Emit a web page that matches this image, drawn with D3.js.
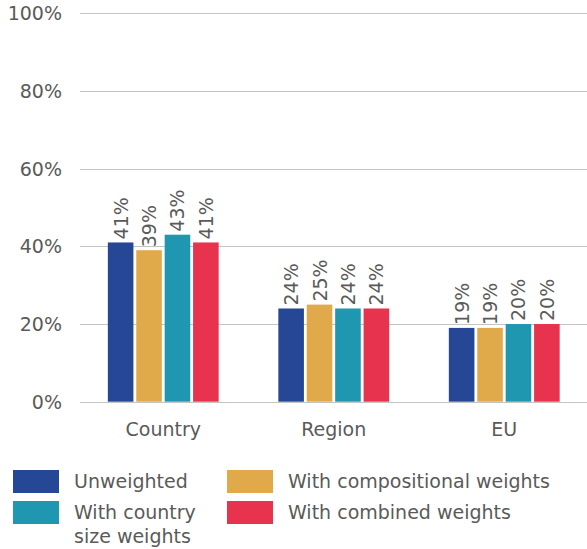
<!DOCTYPE html>
<html><head><meta charset="utf-8">
<script src="https://cdn.jsdelivr.net/npm/d3@7"></script>
<style>body{margin:0;background:#fff}svg{display:block;font-family:"DejaVu Sans",sans-serif}</style>
</head><body><svg id="c" width="587" height="549"></svg>
<script>
const categories = ["Country", "Region", "EU"];
const seriesNames = ["Unweighted", "With compositional weights", "With country size weights", "With combined weights"];
const seriesColors = ["#264796", "#E0AA4A", "#1F97B0", "#E8334E"];
const unweighted = [41, 24, 19];
const compositional = [39, 25, 19];
const countrySize = [43, 24, 20];
const combined = [41, 24, 20];
const yTicks = [0, 20, 40, 60, 80, 100];

const series = [unweighted, compositional, countrySize, combined];
const svg = d3.select("#c");
const x0 = d3.scaleBand().domain(categories).range([78, 589.5]).paddingInner(0.35).paddingOuter(0.175);
const x1 = d3.scaleBand().domain(d3.range(4)).range([0, x0.bandwidth()]).paddingInner(0.1);
const y = d3.scaleLinear().domain([0, 100]).range([401.7, 13.3]);

// gridlines
svg.append("g").selectAll("line").data(yTicks).join("line")
  .attr("x1", 80).attr("x2", 587)
  .attr("y1", d => Math.round(y(d)) + 0.5).attr("y2", d => Math.round(y(d)) + 0.5)
  .attr("stroke", "#c4c4c4").attr("stroke-width", 1.2);

// y labels
svg.append("g").selectAll("text").data(yTicks).join("text")
  .attr("x", 62).attr("y", d => y(d)).attr("dy", "0.36em")
  .attr("text-anchor", "end").attr("font-size", 19).attr("fill", "#5a5a5a")
  .text(d => d + "%");

// bars
const g = svg.append("g").selectAll("g").data(categories).join("g")
  .attr("transform", d => `translate(${x0(d)},0)`);
g.each(function(cat, ci) {
  const sel = d3.select(this);
  series.forEach((s, si) => {
    sel.append("rect").attr("x", x1(si)).attr("width", x1.bandwidth())
      .attr("y", y(s[ci])).attr("height", y(0) - y(s[ci]))
      .attr("fill", seriesColors[si]);
    const cx = x1(si) + x1.bandwidth() / 2;
    sel.append("text")
      .attr("transform", `translate(${cx + 7},${y(s[ci]) - 3}) rotate(-90)`)
      .attr("font-size", 19).attr("fill", "#5a5a5a")
      .text(s[ci] + "%");
  });
});

// category labels
svg.append("g").selectAll("text").data(categories).join("text")
  .attr("x", d => x0(d) + x0.bandwidth() / 2).attr("y", 436)
  .attr("text-anchor", "middle").attr("font-size", 19).attr("fill", "#5a5a5a")
  .text(d => d);

// legend
const legendPos = [[13, 470], [227, 470], [13, 501], [227, 501]];
const legendText = [["Unweighted"], ["With compositional weights"], ["With country", "size weights"], ["With combined weights"]];
const legendOrder = [0, 1, 2, 3];
const lg = svg.append("g");
legendOrder.forEach((si, i) => {
  const [lx, ly] = legendPos[i];
  lg.append("rect").attr("x", lx).attr("y", ly).attr("width", 46).attr("height", 23).attr("fill", seriesColors[si]);
  const t = lg.append("text").attr("x", lx + 61).attr("y", ly + 18).attr("font-size", 19).attr("fill", "#5a5a5a");
  legendText[i].forEach((line, li) => {
    t.append("tspan").attr("x", lx + 61).attr("dy", li === 0 ? 0 : 24).text(line);
  });
});
</script></body></html>
